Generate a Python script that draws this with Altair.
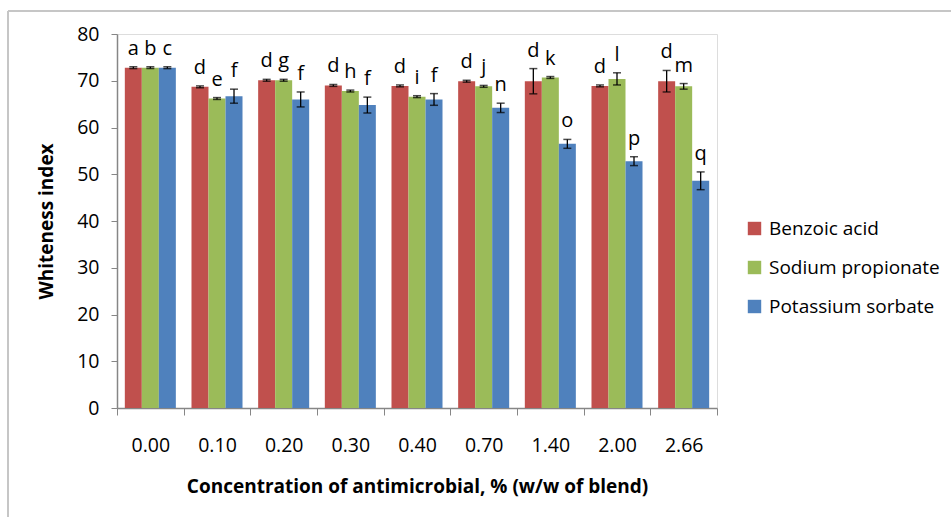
import altair as alt
import pandas as pd

# Concentration of antimicrobial, % (w/w of blend)
concentrations = ["0.00", "0.10", "0.20", "0.30", "0.40", "0.70", "1.40", "2.00", "2.66"]
series_names = ["Benzoic acid", "Sodium propionate", "Potassium sorbate"]
series_colors = ["#C0504D", "#9BBB59", "#4F81BD"]

# Whiteness index means, standard deviations and significance letters
benzoic = [72.8, 68.7, 70.1, 69.0, 68.9, 69.9, 69.9, 68.9, 69.9]
benzoic_sd = [0.2, 0.2, 0.2, 0.2, 0.2, 0.2, 2.7, 0.2, 2.3]
benzoic_letters = ["a", "d", "d", "d", "d", "d", "d", "d", "d"]

propionate = [72.8, 66.2, 70.1, 67.8, 66.6, 68.8, 70.7, 70.4, 68.8]
propionate_sd = [0.2, 0.2, 0.2, 0.2, 0.2, 0.2, 0.2, 1.3, 0.6]
propionate_letters = ["b", "e", "g", "h", "i", "j", "k", "l", "m"]

sorbate = [72.8, 66.7, 66.0, 64.8, 66.0, 64.2, 56.5, 52.8, 48.6]
sorbate_sd = [0.2, 1.5, 1.6, 1.7, 1.25, 1.0, 0.95, 0.95, 1.9]
sorbate_letters = ["c", "f", "f", "f", "f", "n", "o", "p", "q"]

rows = []
for name, vals, sds, letters in zip(
    series_names,
    [benzoic, propionate, sorbate],
    [benzoic_sd, propionate_sd, sorbate_sd],
    [benzoic_letters, propionate_letters, sorbate_letters],
):
    for c, v, s, l in zip(concentrations, vals, sds, letters):
        rows.append({"conc": c, "series": name, "value": v,
                     "lo": v - s, "hi": v + s, "letter": l})
df = pd.DataFrame(rows)

FONT = "Open Sans"
AXIS_COLOR = "#868686"

x_enc = alt.X(
    "conc:N",
    sort=concentrations,
    scale=alt.Scale(paddingInner=0, paddingOuter=0),
    axis=alt.Axis(
        title="Concentration of antimicrobial, % (w/w of blend)",
        labelAngle=0, labelFontSize=19.5, labelColor="#000000", labelFont=FONT,
        labelPadding=21, tickBand="extent", tickSize=7,
        tickColor=AXIS_COLOR, domainColor=AXIS_COLOR, domainWidth=1.5,
        titleFont=FONT, titleFontSize=19, titleFontWeight="bold",
        titleColor="#000000", titlePadding=23,
    ),
)
xoff = alt.XOffset("series:N", sort=series_names,
                   scale=alt.Scale(paddingInner=0, paddingOuter=0.46))

base = alt.Chart(df).encode(x=x_enc, xOffset=xoff)

bars = base.mark_bar().encode(
    y=alt.Y(
        "value:Q",
        scale=alt.Scale(domain=[0, 80], nice=False),
        axis=alt.Axis(
            title="Whiteness index", values=list(range(0, 81, 10)),
            grid=False, labelFontSize=19.5, labelFont=FONT, labelColor="#000000",
            labelPadding=12, tickSize=6, tickColor=AXIS_COLOR,
            domainColor=AXIS_COLOR, domainWidth=1.5,
            titleFont=FONT, titleFontSize=19, titleFontWeight="bold",
            titleColor="#000000", titlePadding=20,
        ),
    ),
    color=alt.Color(
        "series:N", sort=series_names,
        scale=alt.Scale(domain=series_names, range=series_colors),
        legend=alt.Legend(
            title=None, orient="none", legendX=628, legendY=185,
            symbolType="square", symbolSize=180, symbolStrokeWidth=0,
            labelFont=FONT, labelFontSize=19, labelColor="#000000",
            labelLimit=400, rowPadding=19, labelOffset=5,
        ),
    ),
)

err_rule = base.mark_rule(color="#000000", strokeWidth=1.3).encode(
    y="lo:Q", y2="hi:Q"
)
cap_lo = base.mark_tick(color="#000000", size=8, thickness=1.5).encode(y="lo:Q")
cap_hi = base.mark_tick(color="#000000", size=8, thickness=1.5).encode(y="hi:Q")

letters = base.mark_text(
    font=FONT, fontSize=20, color="#000000", baseline="alphabetic", dy=-12
).encode(y="hi:Q", text="letter:N")

# outer chart frame (top and left edges)
frame_top = alt.Chart(df).mark_rule(color="#c6c6c6", strokeWidth=2).encode(
    x=alt.value(-109), x2=alt.value(840), y=alt.value(-23)
)
frame_left = alt.Chart(df).mark_rule(color="#c6c6c6", strokeWidth=2).encode(
    x=alt.value(-109), y=alt.value(-23), y2=alt.value(490)
)

chart = (
    alt.layer(bars, err_rule, cap_lo, cap_hi, letters, frame_top, frame_left)
    .properties(
        width=600, height=374,
        autosize=alt.AutoSizeParams(type="none"),
        padding={"left": 117, "top": 34, "right": 234, "bottom": 109},
    )
    .configure_view(stroke=None)
    .configure(background="#ffffff")
)

chart.save("out.html", embed_options={"renderer": "svg", "actions": False})
